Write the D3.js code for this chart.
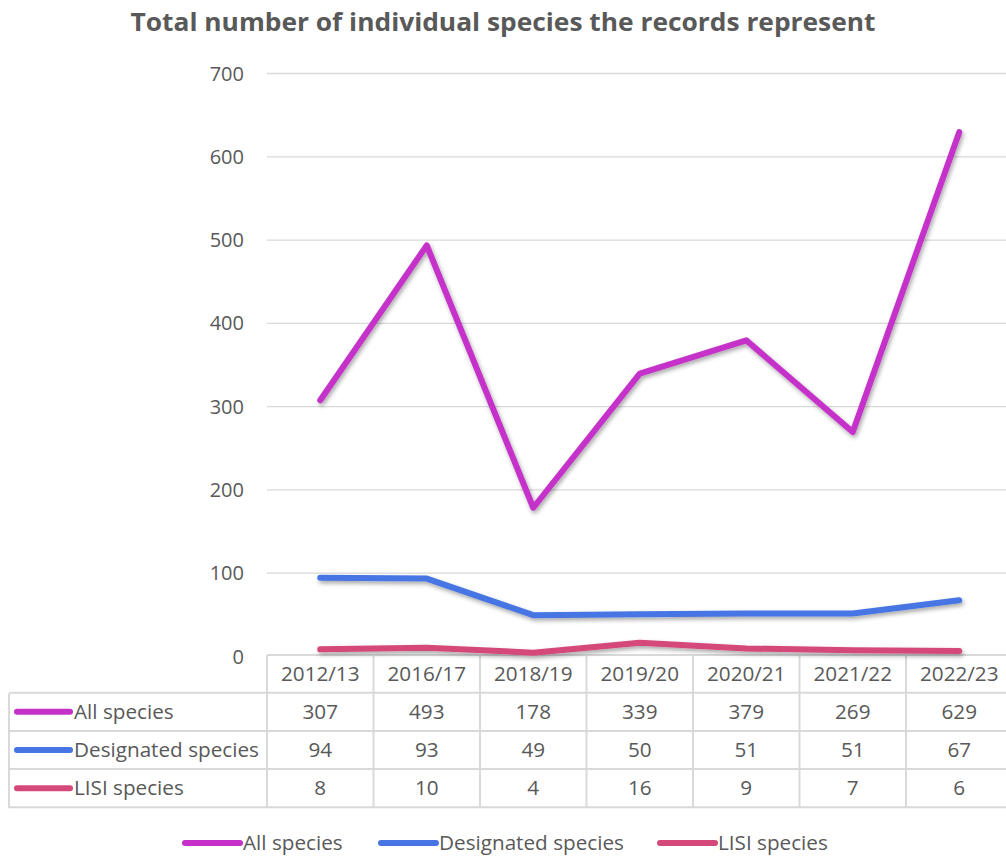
<!DOCTYPE html>
<html>
<head>
<meta charset="utf-8">
<script src="https://cdn.jsdelivr.net/npm/d3@7"></script>
<style>
  html, body { margin: 0; padding: 0; background: #fff; }
  svg { display: block; }
  text { font-family: "Open Sans", "Noto Sans", sans-serif; fill: #595959; }
</style>
</head>
<body>
<svg id="chart" width="1006" height="856"></svg>
<script>
// Financial years shown along the x axis and in the data table header
const years = ["2012/13", "2016/17", "2018/19", "2019/20", "2020/21", "2021/22", "2022/23"];

// Species counts per year
const allSpecies = [307, 493, 178, 339, 379, 269, 629];
const designatedSpecies = [94, 93, 49, 50, 51, 51, 67];
const lisiSpecies = [8, 10, 4, 16, 9, 7, 6];

const seriesNames = ["All species", "Designated species", "LISI species"];
const seriesColors = ["#C530C9", "#4775E3", "#D4497A"];
const yTicks = [0, 100, 200, 300, 400, 500, 600, 700];

const series = [allSpecies, designatedSpecies, lisiSpecies].map((values, i) => ({
  name: seriesNames[i], color: seriesColors[i], values
}));

const svg = d3.select("#chart");
const W = 1006;
const labelSize = "20.7px";

// Plot geometry
const plotLeft = 267, plotTop = 73, plotBottom = 656;
const colW = 106.5;
const plotRight = plotLeft + colW * years.length;

const x = d3.scaleBand().domain(years).range([plotLeft, plotRight]).padding(0);
const y = d3.scaleLinear().domain([0, 700]).range([plotBottom, plotTop]);

// Drop shadow for the series lines
const defs = svg.append("defs");
const f = defs.append("filter").attr("id", "shadow")
  .attr("x", "-5%").attr("y", "-20%").attr("width", "110%").attr("height", "140%");
f.append("feDropShadow").attr("dx", 1.5).attr("dy", 2.5).attr("stdDeviation", 2)
  .attr("flood-color", "#000").attr("flood-opacity", 0.35);

// Title
svg.append("text")
  .attr("x", 503).attr("y", 31)
  .attr("text-anchor", "middle")
  .style("font-size", "25px").style("font-weight", "bold")
  .attr("textLength", 745).attr("lengthAdjust", "spacingAndGlyphs")
  .text("Total number of individual species the records represent");

// Gridlines
svg.append("g").selectAll("line").data(yTicks.filter(d => d > 0)).join("line")
  .attr("x1", plotLeft).attr("x2", W)
  .attr("y1", d => y(d) + 0.5).attr("y2", d => y(d) + 0.5)
  .attr("stroke", "#d9d9d9").attr("stroke-width", 1.3);

// Y axis labels
const yAxis = d3.axisLeft(y).tickValues(yTicks).tickSize(0).tickPadding(0);
const yg = svg.append("g").attr("transform", `translate(244,0)`).call(yAxis);
yg.select(".domain").remove();
yg.selectAll("text").style("font-size", "20px").style("fill", "#595959")
  .style("font-family", "'Open Sans', sans-serif").attr("dy", "0.35em");

// Data table
const headerTop = 655, rowH = 38.2;
const tableLeft = 9;
const tableRight = W + 2;
const gridColor = "#d9d9d9";
const tg = svg.append("g");

// header row top border (over the plot columns only)
tg.append("line").attr("x1", plotLeft).attr("x2", tableRight)
  .attr("y1", headerTop).attr("y2", headerTop).attr("stroke", gridColor).attr("stroke-width", 2);
// row borders
[1, 2, 3, 4].forEach(r => {
  tg.append("line").attr("x1", tableLeft).attr("x2", tableRight)
    .attr("y1", headerTop + rowH * r - 0.5).attr("y2", headerTop + rowH * r - 0.5)
    .attr("stroke", gridColor).attr("stroke-width", 2);
});
// left edge of label column
tg.append("line").attr("x1", tableLeft).attr("x2", tableLeft)
  .attr("y1", headerTop + rowH).attr("y2", headerTop + rowH * 4)
  .attr("stroke", gridColor).attr("stroke-width", 2);
// column separators
d3.range(years.length + 1).forEach(i => {
  const xx = plotLeft + colW * i;
  tg.append("line").attr("x1", xx).attr("x2", xx)
    .attr("y1", headerTop).attr("y2", headerTop + rowH * 4)
    .attr("stroke", gridColor).attr("stroke-width", 2);
});

// header labels
tg.selectAll("text.hdr").data(years).join("text").attr("class", "hdr")
  .attr("x", d => x(d) + x.bandwidth() / 2)
  .attr("y", headerTop + rowH / 2)
  .attr("dy", "0.35em").attr("text-anchor", "middle")
  .style("font-size", labelSize).text(d => d);

// series rows
series.forEach((s, r) => {
  const cy = headerTop + rowH * (r + 1) + rowH / 2 - 0.5;
  tg.append("line").attr("x1", 17).attr("x2", 70).attr("y1", cy).attr("y2", cy)
    .attr("stroke", s.color).attr("stroke-width", 6).attr("stroke-linecap", "round");
  tg.append("text").attr("x", 74).attr("y", cy).attr("dy", "0.35em")
    .style("font-size", labelSize).text(s.name);
  tg.selectAll(null).data(s.values).join("text")
    .attr("x", (d, i) => x(years[i]) + x.bandwidth() / 2)
    .attr("y", cy).attr("dy", "0.35em").attr("text-anchor", "middle")
    .style("font-size", labelSize).text(d => d);
});

// Series lines
const line = d3.line()
  .x((d, i) => x(years[i]) + x.bandwidth() / 2)
  .y(d => y(d));

svg.append("g").attr("filter", "url(#shadow)").selectAll("path").data(series.slice().reverse()).join("path")
  .attr("d", d => line(d.values))
  .attr("fill", "none").attr("stroke", d => d.color)
  .attr("stroke-width", 6).attr("stroke-linecap", "round").attr("stroke-linejoin", "round");

// Legend
const legendItems = [
  { x: 185, name: seriesNames[0], color: seriesColors[0] },
  { x: 381, name: seriesNames[1], color: seriesColors[1] },
  { x: 660, name: seriesNames[2], color: seriesColors[2] }
];
const lg = svg.append("g");
legendItems.forEach(it => {
  lg.append("line").attr("x1", it.x).attr("x2", it.x + 55).attr("y1", 843).attr("y2", 843)
    .attr("stroke", it.color).attr("stroke-width", 6).attr("stroke-linecap", "round");
  lg.append("text").attr("x", it.x + 58).attr("y", 843).attr("dy", "0.35em")
    .style("font-size", labelSize).text(it.name);
});
</script>
</body>
</html>
